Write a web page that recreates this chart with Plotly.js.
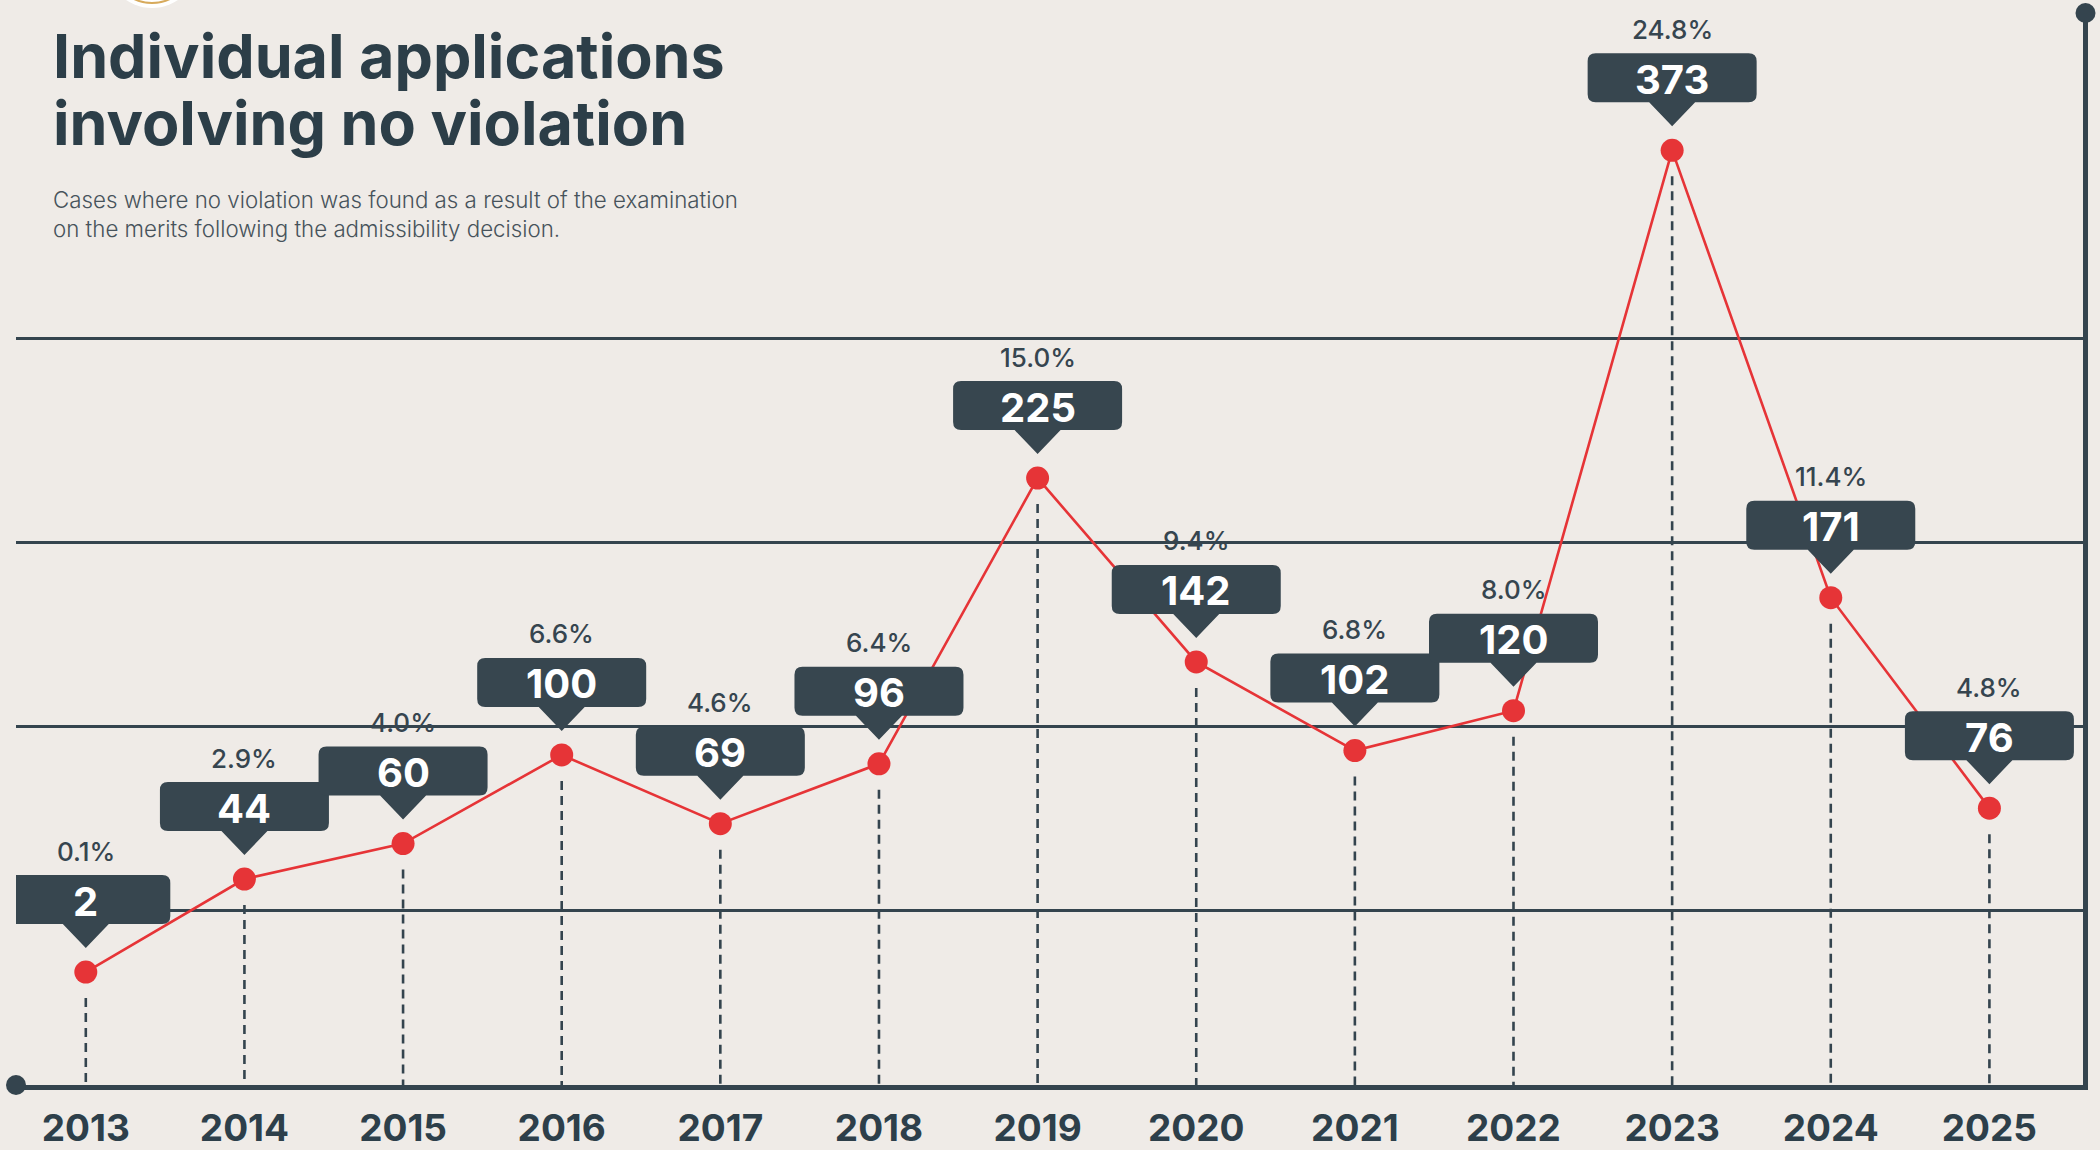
<!DOCTYPE html>
<html>
<head>
<meta charset="utf-8">
<script src="https://cdn.plot.ly/plotly-3.0.1.min.js"></script>
<style>
  html, body { margin: 0; padding: 0; background: #efebe7; }
  #chart { width: 2100px; height: 1150px; }
</style>
</head>
<body>
<div id="chart"></div>
<script>
// ---------- data ----------
const years = [2013, 2014, 2015, 2016, 2017, 2018, 2019, 2020, 2021, 2022, 2023, 2024, 2025];
const yearLabels = ['2013', '2014', '2015', '2016', '2017', '2018', '2019', '2020', '2021', '2022', '2023', '2024', '2025'];
const noViolationCases = [2, 44, 60, 100, 69, 96, 225, 142, 102, 120, 373, 171, 76];
const shareLabels = ['0.1%', '2.9%', '4.0%', '6.6%', '4.6%', '6.4%', '15.0%', '9.4%', '6.8%', '8.0%', '24.8%', '11.4%', '4.8%'];
const titleLines = ['Individual applications', 'involving no violation'];
const subtitleText = 'Cases where no violation was found as a result of the examination<br>on the merits following the admissibility decision.';

// ---------- styling / geometry ----------
const BG = '#efebe7';
const DARK = '#34444e';
const TITLE_C = '#2c3e48';
const BOX_C = '#37464f';
const RED = '#e63437';
const W = 2100, H = 1150;
const M = { l: 16, r: 17, t: 13, b: 65 };
const plotW = W - M.l - M.r, plotH = H - M.t - M.b;
const X_RANGE = [2012.56, 2025.59];
const Y_RANGE = [-49, 435];
const GRID_VALUES = [30, 113, 196, 288];

const pX = px => (px - M.l) / plotW;           // pixel -> paper x
const pY = py => (H - M.b - py) / plotH;         // pixel -> paper y

// label bubble geometry (pixels relative to the data point, y upward)
const BW = 84.5, BB = 48, BT = 97, R = 8, PW = 23, TIP = 24;
const bubblePath =
  `M ${-BW + R},${BB} L ${-PW},${BB} L 0,${TIP} L ${PW},${BB} L ${BW - R},${BB} ` +
  `Q ${BW},${BB} ${BW},${BB + R} L ${BW},${BT - R} Q ${BW},${BT} ${BW - R},${BT} ` +
  `L ${-BW + R},${BT} Q ${-BW},${BT} ${-BW},${BT - R} L ${-BW},${BB + R} Q ${-BW},${BB} ${-BW + R},${BB} Z`;

const shapes = [];
// dashed drop lines
years.forEach((yr, i) => {
  shapes.push({
    type: 'line', xref: 'x', yref: 'y', layer: 'between',
    x0: yr, x1: yr,
    ysizemode: 'pixel', yanchor: noViolationCases[i], y0: -1400, y1: -23,
    line: { color: DARK, width: 2.6, dash: '9px,6px' }
  });
});
// label bubbles
years.forEach((yr, i) => {
  shapes.push({
    type: 'path', xref: 'x', yref: 'y', layer: 'above',
    xsizemode: 'pixel', ysizemode: 'pixel',
    xanchor: yr, yanchor: noViolationCases[i],
    path: bubblePath,
    fillcolor: BOX_C, line: { width: 0 }
  });
});
// axis end dots
shapes.push({
  type: 'circle', xref: 'paper', yref: 'paper', xsizemode: 'pixel', ysizemode: 'pixel',
  xanchor: 0, yanchor: 0, x0: -10, x1: 10, y0: -10, y1: 10,
  fillcolor: DARK, line: { width: 0 }
});
shapes.push({
  type: 'circle', xref: 'paper', yref: 'paper', xsizemode: 'pixel', ysizemode: 'pixel',
  xanchor: 1, yanchor: 1, x0: -7.5, x1: 12.5, y0: -10, y1: 10,
  fillcolor: DARK, line: { width: 0 }
});
// partial logo at the top edge
shapes.push({
  type: 'circle', xref: 'paper', yref: 'paper', xsizemode: 'pixel', ysizemode: 'pixel',
  xanchor: pX(152), yanchor: 1, x0: -46, x1: 46, y0: 5, y1: 97,
  fillcolor: '#ffffff', line: { width: 0 }
});
shapes.push({
  type: 'circle', xref: 'paper', yref: 'paper', xsizemode: 'pixel', ysizemode: 'pixel',
  xanchor: pX(152), yanchor: 1, x0: -41, x1: 41, y0: 10, y1: 92,
  fillcolor: 'rgba(0,0,0,0)', line: { color: '#d7aa5c', width: 2 }
});

const annotations = [];
years.forEach((yr, i) => {
  annotations.push({
    x: yr, y: noViolationCases[i], xref: 'x', yref: 'y',
    text: String(noViolationCases[i]), showarrow: false, yshift: 71,
    font: { family: 'Inter, "Open Sans", sans-serif', size: 40, weight: 700, color: '#ffffff' }
  });
  annotations.push({
    x: yr, y: noViolationCases[i], xref: 'x', yref: 'y',
    text: shareLabels[i], showarrow: false, yshift: 121,
    font: { family: 'Inter, "Open Sans", sans-serif', size: 26, weight: 500, color: '#36454f' }
  });
});
// title lines and description
annotations.push({
  xref: 'paper', yref: 'paper', x: pX(51), y: pY(56), xanchor: 'left', yanchor: 'middle',
  text: titleLines[0], showarrow: false,
  font: { family: 'Inter, "Open Sans", sans-serif', size: 61, weight: 700, color: TITLE_C }
});
annotations.push({
  xref: 'paper', yref: 'paper', x: pX(51), y: pY(123), xanchor: 'left', yanchor: 'middle',
  text: titleLines[1], showarrow: false,
  font: { family: 'Inter, "Open Sans", sans-serif', size: 61, weight: 700, color: TITLE_C }
});
annotations.push({
  xref: 'paper', yref: 'paper', x: pX(51), y: pY(214), xanchor: 'left', yanchor: 'middle', align: 'left',
  text: subtitleText, showarrow: false,
  font: { family: 'Inter, "Open Sans", sans-serif', size: 22.3, weight: 300, color: '#47535b' }
});

const trace = {
  type: 'scatter', mode: 'lines+markers',
  x: years, y: noViolationCases,
  line: { color: RED, width: 2.6 },
  marker: { color: RED, size: 23 },
  hoverinfo: 'skip', showlegend: false
};

const layout = {
  width: W, height: H,
  margin: M,
  paper_bgcolor: BG, plot_bgcolor: BG,
  showlegend: false,
  hovermode: false,
  xaxis: {
    range: X_RANGE, tickmode: 'array', tickvals: years, ticktext: yearLabels,
    showgrid: false, zeroline: false, showline: true, linecolor: DARK, linewidth: 5,
    ticks: '', ticklabelstandoff: 7,
    tickfont: { family: 'Inter, "Open Sans", sans-serif', size: 37, weight: 700, color: '#2d3f4a' },
    fixedrange: true
  },
  yaxis: {
    range: Y_RANGE, tickmode: 'array', tickvals: GRID_VALUES, showticklabels: false,
    showgrid: true, gridcolor: DARK, gridwidth: 3, zeroline: false,
    showline: true, side: 'right', linecolor: DARK, linewidth: 5, ticks: '',
    fixedrange: true
  },
  shapes: shapes,
  annotations: annotations
};

Plotly.newPlot('chart', [trace], layout, { displayModeBar: false, staticPlot: true });
</script>
</body>
</html>
